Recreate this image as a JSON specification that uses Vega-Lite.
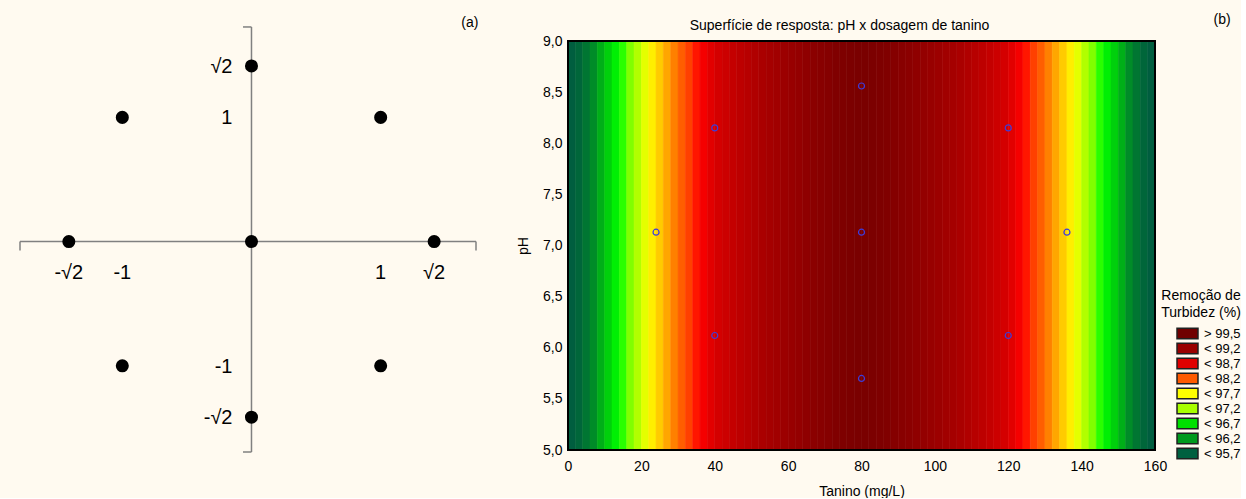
{
  "$schema": "https://vega.github.io/schema/vega-lite/v6.json",
  "background": "#fffaf0",
  "padding": {"left": 19, "top": 12, "right": 0, "bottom": 0},
  "bounds": "flush",
  "spacing": 92,
  "config": {"font": "Liberation Sans", "view": {"stroke": null}},
  "hconcat": [
    {
      "width": 456,
      "height": 411,
      "layer": [
        {
          "data": {"values": [
            {"xa": -1.792, "ya": 0, "xb": 1.738, "yb": 0},
            {"xa": 0, "ya": -1.694, "xb": 0, "yb": 1.728},
            {"xa": -1.792, "ya": 0, "xb": -1.792, "yb": -0.072},
            {"xa": 1.738, "ya": 0, "xb": 1.738, "yb": -0.072},
            {"xa": 0, "ya": 1.728, "xb": -0.066, "yb": 1.728},
            {"xa": 0, "ya": -1.694, "xb": -0.066, "yb": -1.694}
          ]},
          "mark": {"type": "rule", "color": "#808080", "strokeWidth": 1.5},
          "encoding": {
            "x": {"field": "xa", "type": "quantitative", "scale": {"domain": [-1.792, 1.738], "nice": false, "zero": false}, "axis": null},
            "y": {"field": "ya", "type": "quantitative", "scale": {"domain": [-1.694, 1.615], "nice": false, "zero": false}, "axis": null},
            "x2": {"field": "xb"},
            "y2": {"field": "yb"}
          }
        },
        {
          "data": {"values": [
            {"x": -1, "y": -1}, {"x": 1, "y": -1}, {"x": -1, "y": 1}, {"x": 1, "y": 1},
            {"x": -1.414, "y": 0}, {"x": 1.414, "y": 0}, {"x": 0, "y": -1.414}, {"x": 0, "y": 1.414}, {"x": 0, "y": 0}
          ]},
          "mark": {"type": "circle", "color": "#000000", "opacity": 1, "size": 170},
          "encoding": {
            "x": {"field": "x", "type": "quantitative", "axis": null},
            "y": {"field": "y", "type": "quantitative", "axis": null}
          }
        },
        {
          "data": {"values": [
            {"rotulo": "√2", "x": 0, "y": 1.414},
            {"rotulo": "1", "x": 0, "y": 1},
            {"rotulo": "-1", "x": 0, "y": -1},
            {"rotulo": "-√2", "x": 0, "y": -1.414}
          ]},
          "mark": {"type": "text", "align": "right", "baseline": "middle", "dx": -19, "dy": 1, "fontSize": 20, "color": "#000000"},
          "encoding": {
            "x": {"field": "x", "type": "quantitative", "axis": null},
            "y": {"field": "y", "type": "quantitative", "axis": null},
            "text": {"field": "rotulo"}
          }
        },
        {
          "data": {"values": [
            {"rotulo": "-√2", "x": -1.414, "y": 0},
            {"rotulo": "-1", "x": -1, "y": 0},
            {"rotulo": "1", "x": 1, "y": 0},
            {"rotulo": "√2", "x": 1.414, "y": 0}
          ]},
          "mark": {"type": "text", "align": "center", "baseline": "middle", "dy": 31, "fontSize": 20, "color": "#000000"},
          "encoding": {
            "x": {"field": "x", "type": "quantitative", "axis": null},
            "y": {"field": "y", "type": "quantitative", "axis": null},
            "text": {"field": "rotulo"}
          }
        },
        {
          "data": {"values": [{"rotulo": "(a)", "x": 1.691, "y": 1.76}]},
          "mark": {"type": "text", "align": "center", "baseline": "middle", "fontSize": 14, "color": "#000000"},
          "encoding": {
            "x": {"field": "x", "type": "quantitative", "axis": null},
            "y": {"field": "y", "type": "quantitative", "axis": null},
            "text": {"field": "rotulo"}
          }
        }
      ]
    },
    {
      "width": 587,
      "height": 409,
      "title": {"text": "Superfície de resposta: pH x dosagem de tanino", "fontSize": 14, "fontWeight": "normal", "color": "#000000", "anchor": "middle", "frame": "group", "offset": -20, "dx": -22},
      "layer": [
        {
          "data": {"values": [
            {"ini": 0, "fim": 2, "r": 95.54}, {"ini": 2, "fim": 4, "r": 95.77}, {"ini": 4, "fim": 6, "r": 95.98}, {"ini": 6, "fim": 8, "r": 96.19},
            {"ini": 8, "fim": 10, "r": 96.40}, {"ini": 10, "fim": 12, "r": 96.60}, {"ini": 12, "fim": 14, "r": 96.79}, {"ini": 14, "fim": 16, "r": 96.98},
            {"ini": 16, "fim": 18, "r": 97.17}, {"ini": 18, "fim": 20, "r": 97.34}, {"ini": 20, "fim": 22, "r": 97.51}, {"ini": 22, "fim": 24, "r": 97.68},
            {"ini": 24, "fim": 26, "r": 97.84}, {"ini": 26, "fim": 28, "r": 97.99}, {"ini": 28, "fim": 30, "r": 98.14}, {"ini": 30, "fim": 32, "r": 98.29},
            {"ini": 32, "fim": 34, "r": 98.42}, {"ini": 34, "fim": 36, "r": 98.55}, {"ini": 36, "fim": 38, "r": 98.68}, {"ini": 38, "fim": 40, "r": 98.80},
            {"ini": 40, "fim": 42, "r": 98.91}, {"ini": 42, "fim": 44, "r": 99.02}, {"ini": 44, "fim": 46, "r": 99.13}, {"ini": 46, "fim": 48, "r": 99.22},
            {"ini": 48, "fim": 50, "r": 99.31}, {"ini": 50, "fim": 52, "r": 99.40}, {"ini": 52, "fim": 54, "r": 99.48}, {"ini": 54, "fim": 56, "r": 99.55},
            {"ini": 56, "fim": 58, "r": 99.62}, {"ini": 58, "fim": 60, "r": 99.69}, {"ini": 60, "fim": 62, "r": 99.74}, {"ini": 62, "fim": 64, "r": 99.79},
            {"ini": 64, "fim": 66, "r": 99.84}, {"ini": 66, "fim": 68, "r": 99.88}, {"ini": 68, "fim": 70, "r": 99.91}, {"ini": 70, "fim": 72, "r": 99.94},
            {"ini": 72, "fim": 74, "r": 99.97}, {"ini": 74, "fim": 76, "r": 99.98}, {"ini": 76, "fim": 78, "r": 99.99}, {"ini": 78, "fim": 80, "r": 100.00},
            {"ini": 80, "fim": 82, "r": 100.00}, {"ini": 82, "fim": 84, "r": 99.99}, {"ini": 84, "fim": 86, "r": 99.98}, {"ini": 86, "fim": 88, "r": 99.97},
            {"ini": 88, "fim": 90, "r": 99.94}, {"ini": 90, "fim": 92, "r": 99.91}, {"ini": 92, "fim": 94, "r": 99.88}, {"ini": 94, "fim": 96, "r": 99.84},
            {"ini": 96, "fim": 98, "r": 99.79}, {"ini": 98, "fim": 100, "r": 99.74}, {"ini": 100, "fim": 102, "r": 99.69}, {"ini": 102, "fim": 104, "r": 99.62},
            {"ini": 104, "fim": 106, "r": 99.55}, {"ini": 106, "fim": 108, "r": 99.48}, {"ini": 108, "fim": 110, "r": 99.40}, {"ini": 110, "fim": 112, "r": 99.31},
            {"ini": 112, "fim": 114, "r": 99.22}, {"ini": 114, "fim": 116, "r": 99.13}, {"ini": 116, "fim": 118, "r": 99.02}, {"ini": 118, "fim": 120, "r": 98.91},
            {"ini": 120, "fim": 122, "r": 98.80}, {"ini": 122, "fim": 124, "r": 98.68}, {"ini": 124, "fim": 126, "r": 98.55}, {"ini": 126, "fim": 128, "r": 98.42},
            {"ini": 128, "fim": 130, "r": 98.29}, {"ini": 130, "fim": 132, "r": 98.14}, {"ini": 132, "fim": 134, "r": 97.99}, {"ini": 134, "fim": 136, "r": 97.84},
            {"ini": 136, "fim": 138, "r": 97.68}, {"ini": 138, "fim": 140, "r": 97.51}, {"ini": 140, "fim": 142, "r": 97.34}, {"ini": 142, "fim": 144, "r": 97.17},
            {"ini": 144, "fim": 146, "r": 96.98}, {"ini": 146, "fim": 148, "r": 96.79}, {"ini": 148, "fim": 150, "r": 96.60}, {"ini": 150, "fim": 152, "r": 96.40},
            {"ini": 152, "fim": 154, "r": 96.19}, {"ini": 154, "fim": 156, "r": 95.98}, {"ini": 156, "fim": 158, "r": 95.77}, {"ini": 158, "fim": 160, "r": 95.54}
          ]},
          "mark": {"type": "rect", "strokeWidth": 0.6},
          "encoding": {
            "x": {"field": "ini", "type": "quantitative", "scale": {"domain": [0, 160], "nice": false, "zero": false},
                  "axis": {"values": [0, 20, 40, 60, 80, 100, 120, 140, 160], "title": "Tanino (mg/L)", "grid": false, "domain": false, "ticks": false, "tickSize": 0,
                           "labelPadding": 9, "titlePadding": 11, "labelFontSize": 14, "titleFontSize": 14, "titleFontWeight": "normal",
                           "labelColor": "#000000", "titleColor": "#000000", "labelFlush": false, "labelOverlap": false}},
            "x2": {"field": "fim"},
            "y": {"datum": 5, "type": "quantitative", "scale": {"domain": [5, 9], "nice": false, "zero": false},
                  "axis": {"values": [5, 5.5, 6, 6.5, 7, 7.5, 8, 8.5, 9], "title": "pH", "grid": false, "domain": false, "ticks": false, "tickSize": 0,
                           "labelExpr": "replace(format(datum.value, '.1f'), '.', ',')",
                           "labelPadding": 6, "titlePadding": 12, "labelFontSize": 14, "titleFontSize": 14, "titleFontWeight": "normal",
                           "labelColor": "#000000", "titleColor": "#000000", "labelFlush": false, "labelOverlap": false}},
            "y2": {"datum": 9},
            "fill": {"field": "r", "type": "quantitative", "legend": null,
                     "scale": {"type": "linear", "interpolate": "rgb",
                               "domain": [95.5, 95.87, 96.19, 96.5, 96.89, 97.17, 97.39, 97.6, 97.89, 98.14, 98.42, 98.62, 98.86, 99.4, 99.77, 99.95, 100],
                               "range": ["#005c40", "#006a38", "#008c28", "#00c010", "#00ff00", "#80ff00", "#c0ff00", "#ffff00", "#ffc000", "#ff8000", "#ff4000", "#ff0000", "#d80000", "#b00000", "#960000", "#840000", "#7a0000"]}},
            "stroke": {"field": "r", "type": "quantitative", "legend": null,
                     "scale": {"type": "linear", "interpolate": "rgb",
                               "domain": [95.5, 95.87, 96.19, 96.5, 96.89, 97.17, 97.39, 97.6, 97.89, 98.14, 98.42, 98.62, 98.86, 99.4, 99.77, 99.95, 100],
                               "range": ["#005c40", "#006a38", "#008c28", "#00c010", "#00ff00", "#80ff00", "#c0ff00", "#ffff00", "#ffc000", "#ff8000", "#ff4000", "#ff0000", "#d80000", "#b00000", "#960000", "#840000", "#7a0000"]}}
          }
        },
        {
          "data": {"values": [{"moldura": 1}]},
          "mark": {"type": "rect", "filled": false, "stroke": "#000000", "strokeWidth": 2},
          "encoding": {
            "x": {"datum": 0, "type": "quantitative"},
            "x2": {"datum": 160},
            "y": {"datum": 5, "type": "quantitative"},
            "y2": {"datum": 9}
          }
        },
        {
          "data": {"values": [
            {"tanino": 40, "ph": 8.15}, {"tanino": 120, "ph": 8.15}, {"tanino": 80, "ph": 8.56},
            {"tanino": 24, "ph": 7.13}, {"tanino": 80, "ph": 7.13}, {"tanino": 136, "ph": 7.13},
            {"tanino": 40, "ph": 6.12}, {"tanino": 120, "ph": 6.12}, {"tanino": 80, "ph": 5.7}
          ]},
          "mark": {"type": "point", "shape": "circle", "filled": false, "stroke": "#3c3cdc", "strokeWidth": 1.2, "size": 36, "opacity": 1},
          "encoding": {
            "x": {"field": "tanino", "type": "quantitative"},
            "y": {"field": "ph", "type": "quantitative"}
          }
        },
        {
          "data": {"values": [
            {"classe": "> 99,5"}, {"classe": "< 99,2"}, {"classe": "< 98,7"}, {"classe": "< 98,2"}, {"classe": "< 97,7"},
            {"classe": "< 97,2"}, {"classe": "< 96,7"}, {"classe": "< 96,2"}, {"classe": "< 95,7"}
          ]},
          "mark": {"type": "square", "opacity": 0, "size": 10},
          "encoding": {
            "x": {"datum": 80, "type": "quantitative"},
            "y": {"datum": 7, "type": "quantitative"},
            "color": {"field": "classe", "type": "nominal",
                      "scale": {"domain": ["> 99,5", "< 99,2", "< 98,7", "< 98,2", "< 97,7", "< 97,2", "< 96,7", "< 96,2", "< 95,7"],
                                "range": ["#700000", "#990000", "#e00000", "#ff5a00", "#ffff00", "#a8ff00", "#00e000", "#009a1e", "#006040"]},
                      "legend": {"title": ["Remoção de", "Turbidez (%)"], "orient": "none", "legendX": 1141, "legendY": 248,
                                 "titleFontSize": 14, "titleFontWeight": "normal", "titleColor": "#000000", "titleAnchor": "middle", "titleAlign": "center",
                                 "titleLineHeight": 17, "titlePadding": 7, "labelFontSize": 13, "labelColor": "#000000",
                                 "symbolType": "M-2,-1H2V1H-2Z", "symbolSize": 110, "symbolStrokeColor": "#202020", "symbolStrokeWidth": 1.5,
                                 "symbolOpacity": 1, "symbolOffset": 19, "labelOffset": 10, "rowPadding": -2.7, "padding": 0}}
          }
        },
        {
          "data": {"values": [{"rotulo": "(b)", "tanino": 178.3, "ph": 9.21}]},
          "mark": {"type": "text", "align": "center", "baseline": "middle", "fontSize": 14, "color": "#000000"},
          "encoding": {
            "x": {"field": "tanino", "type": "quantitative"},
            "y": {"field": "ph", "type": "quantitative"},
            "text": {"field": "rotulo"}
          }
        }
      ]
    }
  ]
}
